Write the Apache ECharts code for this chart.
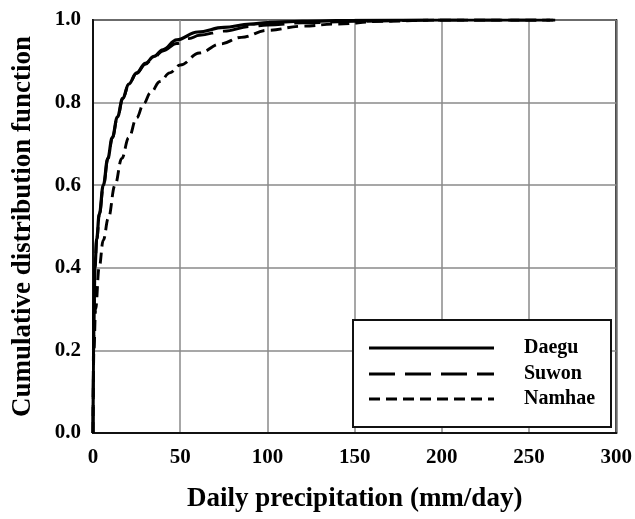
<!DOCTYPE html>
<html>
<head>
<meta charset="utf-8">
<script src="https://cdn.jsdelivr.net/npm/echarts@6/dist/echarts.min.js"></script>
<style>
  html, body { margin: 0; padding: 0; background: #fff; }
  #chart { width: 635px; height: 519px; }
</style>
</head>
<body>
<div id="chart"></div>
<script>
// Empirical CDF of daily precipitation, [mm/day, cumulative probability]
const daegu = [
  [0, 0], [0.3, 0.2], [0.6, 0.3], [1.1, 0.4], [2.1, 0.47], [3.6, 0.53],
  [5.9, 0.6], [8.5, 0.665], [11, 0.715], [14, 0.765], [17, 0.81],
  [20.5, 0.845], [25, 0.872], [30, 0.895], [35, 0.912], [40, 0.928],
  [48, 0.952], [60, 0.971], [75, 0.982], [90, 0.99], [100, 0.994],
  [120, 0.997], [150, 0.999], [200, 1.0], [265, 1.0]
];
const suwon = [
  [0, 0], [0.3, 0.2], [0.6, 0.3], [1.1, 0.4], [2.2, 0.47], [3.7, 0.53],
  [6, 0.6], [8.6, 0.665], [11.1, 0.715], [14.1, 0.765], [17.1, 0.81],
  [20.6, 0.845], [25, 0.871], [30, 0.893], [35, 0.91], [40, 0.925],
  [48, 0.943], [55, 0.955], [61, 0.963], [75, 0.973], [90, 0.984],
  [100, 0.988], [120, 0.993], [150, 0.997], [200, 1.0], [262, 1.0]
];
const namhae = [
  [0, 0], [0.5, 0.2], [1.5, 0.3], [3.5, 0.4], [5.9, 0.467], [8.8, 0.52],
  [12.6, 0.6], [16.5, 0.665], [20.5, 0.715], [25, 0.763], [29, 0.797],
  [33, 0.824], [38.4, 0.851], [44, 0.872], [50, 0.891], [61, 0.92],
  [73, 0.942], [85, 0.958], [100, 0.975], [120, 0.985], [138, 0.99],
  [166, 0.997], [200, 1.0], [265, 1.0]
];
const seriesNames = ['Daegu', 'Suwon', 'Namhae'];
const xTicks = { min: 0, max: 300, step: 50 };
const yTicks = { min: 0, max: 1, step: 0.2 };

const FONT = '"Liberation Serif", "Times New Roman", serif';
const styles = [
  { type: 'solid', width: 3.2 },
  { type: [26, 10], width: 2.9 },
  { type: [11, 6], width: 2.9 }
];

const chart = echarts.init(document.getElementById('chart'), null, { renderer: 'canvas' });

// legend box drawn as graphic elements (lower right of the plot)
const legendLeft = 353, legendTop = 320, legendW = 258, legendH = 107;
const legendRows = [348, 374, 399];
const legendGraphics = [{
  type: 'rect',
  shape: { x: legendLeft, y: legendTop, width: legendW, height: legendH },
  style: { fill: '#fff', stroke: '#111', lineWidth: 2 },
  z: 100
}];
seriesNames.forEach((name, i) => {
  legendGraphics.push({
    type: 'line',
    shape: { x1: 369, y1: legendRows[i], x2: 494, y2: legendRows[i] },
    style: { stroke: '#000', lineWidth: styles[i].width, lineDash: styles[i].type === 'solid' ? null : styles[i].type },
    z: 101
  });
  legendGraphics.push({
    type: 'text',
    x: 524, y: legendRows[i],
    style: { text: name, fill: '#000', font: 'bold 20px ' + FONT, textVerticalAlign: 'middle', verticalAlign: 'middle' },
    z: 101
  });
});

chart.setOption({
  backgroundColor: '#fff',
  animation: false,
  grid: {
    left: 93, right: 18, top: 20, bottom: 86,
    show: true, borderColor: '#111', borderWidth: 2, backgroundColor: 'transparent'
  },
  xAxis: {
    type: 'value',
    min: xTicks.min, max: xTicks.max, interval: xTicks.step,
    name: 'Daily precipitation (mm/day)',
    nameLocation: 'middle', nameGap: 53,
    nameTextStyle: { fontFamily: FONT, fontWeight: 'bold', fontSize: 27, color: '#000' },
    axisLine: { show: true, lineStyle: { color: '#111', width: 2 } },
    axisTick: { show: false },
    axisLabel: { fontFamily: FONT, fontWeight: 'bold', fontSize: 21, color: '#000', margin: 14 },
    splitLine: { show: true, lineStyle: { color: '#8a8a8a', width: 1.5 } }
  },
  yAxis: {
    type: 'value',
    min: yTicks.min, max: yTicks.max, interval: yTicks.step,
    name: 'Cumulative distribution function',
    nameLocation: 'middle', nameGap: 56,
    nameTextStyle: { fontFamily: FONT, fontWeight: 'bold', fontSize: 27, color: '#000' },
    axisLine: { show: true, lineStyle: { color: '#111', width: 2 } },
    axisTick: { show: false },
    axisLabel: {
      fontFamily: FONT, fontWeight: 'bold', fontSize: 21, color: '#000', margin: 12,
      formatter: v => v.toFixed(1)
    },
    splitLine: { show: true, lineStyle: { color: '#8a8a8a', width: 1.5 } }
  },
  series: [daegu, suwon, namhae].map((data, i) => ({
    name: seriesNames[i],
    type: 'line',
    data: data,
    showSymbol: false,
    symbol: 'none',
    smooth: 0.4,
    smoothMonotone: 'x',
    clip: true,
    lineStyle: { color: '#000', width: styles[i].width, type: styles[i].type },
    z: 5 - i
  })),
  graphic: legendGraphics
});
</script>
</body>
</html>
